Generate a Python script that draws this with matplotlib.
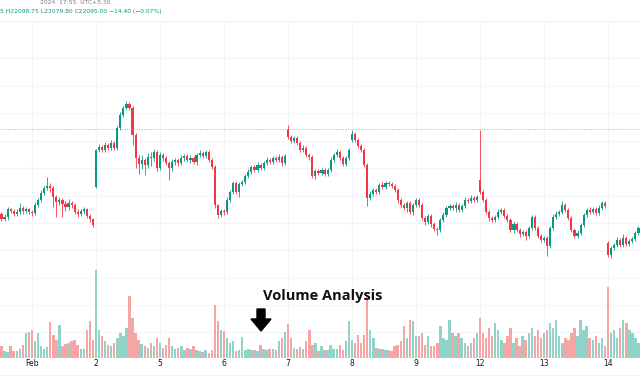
import matplotlib.pyplot as plt
from matplotlib.transforms import Affine2D
from matplotlib.patches import Polygon
import numpy as np

# 18-minute candles, Jan 31 (tail) to Feb 14
closes = [22081, 22083, 22091, 22089, 22086, 22088, 22092, 22089, 22091, 22088,
          22087, 22095, 22100, 22107, 22112, 22114, 22112, 22103, 22098, 22100, 22096,
          22093, 22097, 22095, 22088, 22086, 22089, 22091, 22084, 22081, 22075,
          22150, 22153, 22150, 22155, 22152, 22157, 22152, 22172, 22185, 22192, 22196,
          22192, 22165, 22142, 22136, 22140, 22135, 22143, 22142, 22148, 22132,
          22145, 22142, 22137, 22132, 22138, 22140, 22137, 22142, 22144, 22140, 22142,
          22138, 22145, 22147, 22144, 22148, 22140, 22133, 22095, 22085, 22089,
          22088, 22100, 22108, 22117, 22108, 22116, 22118, 22124, 22128, 22133, 22130,
          22135, 22132, 22137, 22140, 22138, 22142, 22140, 22143, 22137, 22144,
          22163, 22159, 22162, 22157, 22150, 22152, 22145, 22143, 22124, 22129, 22127,
          22130, 22126, 22130, 22140, 22145, 22148, 22142, 22136, 22142, 22150,
          22166, 22160, 22154, 22150, 22135, 22102, 22106, 22110, 22108, 22115, 22113,
          22117, 22116, 22114, 22110, 22100, 22095, 22092, 22097, 22088, 22095,
          22100, 22095, 22082, 22078, 22084, 22076, 22071, 22070, 22080, 22085, 22092,
          22094, 22092, 22095, 22090, 22094, 22100, 22099, 22102, 22100, 22103,
          22108, 22100, 22088, 22082, 22080, 22083, 22088, 22090, 22084, 22080, 22070,
          22076, 22070, 22066, 22068, 22064, 22072, 22083, 22072, 22064, 22060,
          22062, 22054, 22072, 22083, 22086, 22088, 22095, 22090, 22082, 22070, 22064,
          22067, 22075, 22085, 22090, 22088, 22091, 22087, 22092, 22097, 22094,
          22045, 22052, 22055, 22060, 22055, 22062, 22056, 22059, 22061, 22067, 22072]

# opening prints that gap away from the previous close
session_opens = {0: 22086, 31: 22113, 94: 22171, 115: 22160, 157: 22120, 199: 22057}

upper_wick = [2, 3, 2, 1, 2, 3, 5, 2, 2, 1,
              2, 3, 2, 3, 2, 9, 3, 2, 2, 3, 2, 3, 4, 2, 2, 3, 2, 2, 1, 2, 1,
              1, 3, 2, 3, 2, 3, 2, 2, 3, 2, 3, 2, 2, 2, 3, 5, 2, 4, 5, 3, 2,
              3, 2, 2, 2, 3, 2, 2, 3, 2, 2, 3, 2, 2, 3, 2, 2, 2, 2, 2, 1, 2,
              2, 3, 2, 2, 2, 2, 2, 2, 3, 2, 2, 3, 2, 2, 3, 2, 2, 2, 3, 2, 2,
              4, 2, 2, 2, 2, 3, 2, 2, 2, 2, 2, 2, 2, 2, 3, 2, 3, 2, 2, 2, 2,
              4, 2, 2, 2, 2, 2, 3, 2, 2, 2, 3, 2, 2, 2, 2, 2, 2, 2, 2, 2, 2,
              2, 2, 2, 2, 2, 2, 2, 2, 2, 3, 2, 2, 2, 3, 2, 2, 3, 2, 3, 2, 2,
              50, 2, 2, 2, 2, 2, 3, 2, 2, 2, 2, 3, 2, 2, 2, 2, 2, 2, 2, 2, 2,
              2, 2, 2, 3, 3, 2, 4, 2, 2, 2, 2, 3, 2, 2, 2, 3, 2, 2, 3, 2, 2,
              2, 2, 2, 3, 2, 4, 2, 2, 2, 2, 2]

lower_wick = [2, 2, 3, 2, 2, 2, 2, 3, 2, 2,
              3, 2, 2, 2, 2, 2, 4, 10, 15, 3, 13, 4, 3, 3, 2, 3, 2, 3, 2, 3, 2,
              1, 2, 2, 2, 2, 2, 2, 2, 2, 2, 2, 2, 10, 10, 10, 5, 10, 3, 8, 3, 3,
              2, 3, 2, 12, 3, 3, 3, 2, 3, 2, 3, 2, 3, 2, 2, 2, 2, 2, 3, 3, 2,
              3, 2, 2, 2, 2, 5, 2, 2, 2, 2, 2, 2, 2, 2, 2, 2, 2, 2, 2, 3, 2,
              2, 2, 2, 2, 2, 2, 2, 3, 2, 3, 2, 2, 2, 2, 2, 2, 2, 2, 2, 2, 2,
              2, 2, 2, 2, 2, 8, 2, 2, 2, 2, 2, 2, 2, 2, 2, 3, 2, 2, 4, 2, 3,
              2, 2, 2, 3, 2, 3, 2, 5, 2, 2, 2, 2, 2, 4, 2, 2, 2, 2, 2, 2, 2,
              2, 2, 2, 3, 2, 2, 2, 2, 2, 2, 2, 3, 2, 3, 2, 4, 2, 2, 2, 2, 2,
              2, 10, 2, 2, 2, 2, 2, 2, 2, 2, 2, 2, 2, 2, 2, 2, 2, 2, 2, 2, 2,
              2, 3, 2, 2, 2, 2, 2, 2, 2, 2, 2]

volume = [12, 7, 6, 12, 7, 7, 9, 13, 25, 26,
          28, 17, 25, 12, 9, 11, 36, 23, 18, 33, 12, 14, 15, 17, 18, 13, 9, 9, 28, 37, 18,
          88, 28, 22, 17, 13, 12, 15, 20, 25, 22, 30, 62, 40, 25, 18, 14, 12, 10, 15, 12, 20,
          15, 10, 13, 20, 12, 9, 10, 12, 8, 10, 9, 12, 8, 7, 6, 8, 5, 8, 53, 37, 28,
          27, 20, 15, 17, 7, 8, 21, 8, 9, 8, 8, 7, 13, 9, 8, 9, 9, 8, 17, 20, 26,
          34, 20, 10, 9, 11, 9, 17, 28, 13, 15, 7, 12, 8, 8, 13, 9, 9, 13, 8, 17, 37,
          18, 15, 23, 15, 23, 63, 28, 20, 10, 9, 9, 8, 8, 7, 12, 13, 17, 32, 20, 38, 37,
          22, 22, 25, 13, 22, 12, 12, 15, 32, 20, 18, 38, 25, 22, 25, 20, 15, 12, 15, 20, 25,
          40, 25, 20, 30, 22, 35, 28, 18, 15, 22, 30, 15, 20, 12, 22, 18, 25, 30, 22, 28, 20,
          25, 28, 35, 30, 38, 22, 15, 20, 18, 25, 30, 22, 38, 28, 32, 20, 18, 22, 15, 20, 12,
          71, 25, 28, 20, 30, 38, 35, 28, 25, 20, 15]

day_labels = ['Feb', '2', '5', '6', '7', '8', '9', '12', '13', '14']
day_starts = [10, 31, 52, 73, 94, 115, 136, 157, 178, 199]

closes = np.array(closes, dtype=float)
opens = np.r_[closes[0], closes[:-1]]
for k, v in session_opens.items():
    opens[k] = v
highs = np.maximum(opens, closes) + np.array(upper_wick)
lows = np.minimum(opens, closes) - np.array(lower_wick)
up = closes >= opens
idx = np.arange(len(closes))

green, red = '#089981', '#f23645'
vol_green, vol_red = '#8fd3c9', '#f6a5a5'
grid_c = '#f3f4f7'

fig = plt.figure(figsize=(6.4, 3.84), dpi=100)
fig.patch.set_facecolor('white')

# volume pane underneath (1 unit = 1 px, baseline near the time axis)
axv = fig.add_axes([0, 0, 1, 1])
axv.set_xlim(-0.49, 209.5)
axv.set_ylim(-26, 358)
axv.axis('off')
grid_px = [58, 86, 113, 141, 168, 196, 223, 250, 278, 305, 332]
for g in grid_px:
    axv.axhline(358 - g, color=grid_c, lw=0.8, zorder=0)
axv.axhline(358 - 21, color='#eceef2', lw=0.8, zorder=0)
axv.vlines(day_starts, 0, 337, color=grid_c, lw=0.8, zorder=0)
axv.bar(idx, volume, width=0.8, color=np.where(up, vol_green, vol_red), zorder=1)
axv.axhline(-17, color='#eceef2', lw=0.6)

# price pane on top
ax = fig.add_axes([0, 0, 1, 1])
ax.patch.set_visible(False)
ax.set_xlim(-0.49, 209.5)
ax.set_ylim(21916, 22300)
ax.axis('off')
ax.axhline(22171, color='#b2b5be', lw=0.7, ls=(0, (1, 1.5)))
colors = np.where(up, green, red)
ax.vlines(idx, lows, highs, color=colors, lw=0.6)
body = np.maximum(np.abs(closes - opens), 0.8)
ax.bar(idx, body, bottom=np.minimum(opens, closes), width=0.7, color=colors)

for pos, lab in zip(day_starts, day_labels):
    ax.text(pos, 21937, lab, ha='center', va='center', fontsize=5.5, color='#131722')

# header strip
px = Affine2D().scale(1 / 100, -1 / 100).translate(0, 3.84) + fig.dpi_scale_trans
fig.text(40, 3, '2024  17:55  UTC+5:30', transform=px, fontsize=4.3,
         color='#787b86', va='center')
fig.text(0, 12, '5 H22098.75 L22079.80 C22095.00 \u221214.40 (\u22120.07%)',
         transform=px, fontsize=4.3, color=green, va='center')

# annotation
fig.text(323, 296, 'Volume Analysis', transform=px, ha='center', va='center',
         fontsize=10.5, fontweight='bold', family='Open Sans', color='#111111')
arrow = Polygon([(257, 309), (265, 309), (265, 319), (271, 319), (261, 331),
                 (251, 319), (257, 319)], closed=True, transform=px, color='black')
fig.patches.append(arrow)

fig.savefig('out.png', dpi=100)
